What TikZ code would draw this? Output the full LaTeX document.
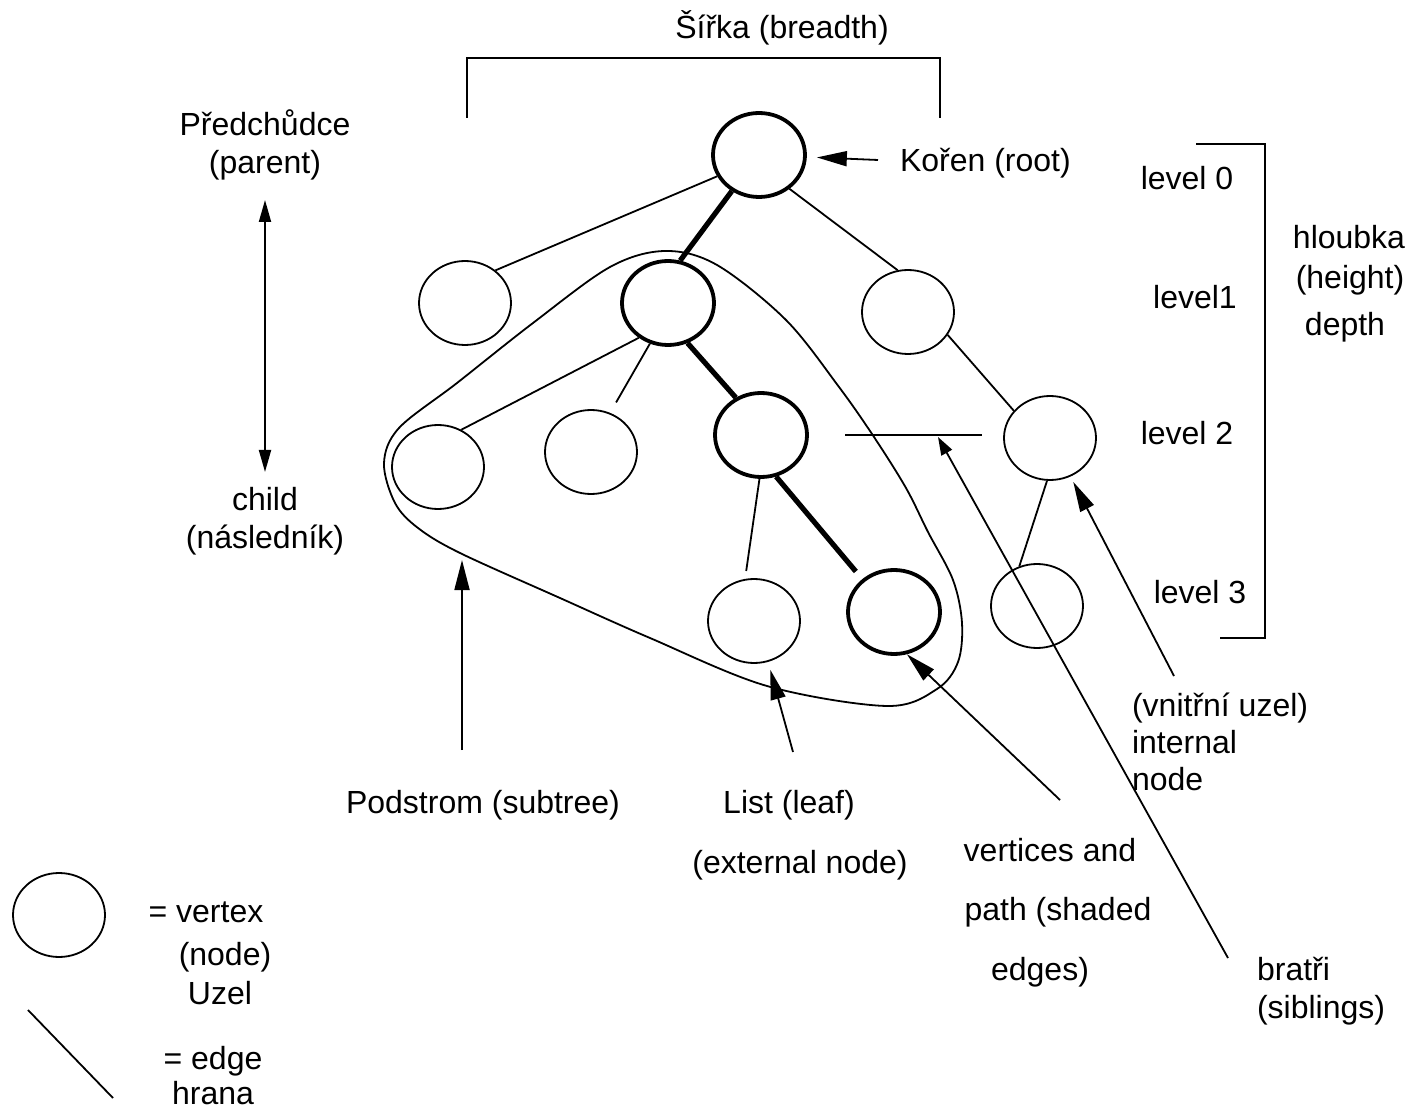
\documentclass[tikz,border=0pt]{standalone}
\usepackage{fontspec}
\setmainfont{Liberation Sans}
\usepackage{tikz}
\usetikzlibrary{shapes.geometric, arrows.meta, calc}

\begin{document}
\begin{tikzpicture}[x=0.5pt,y=-0.5pt,font=\fontsize{16}{19}\selectfont,
                    main node/.style={ellipse,draw,line width=0.9pt,inner sep=0pt,
                                      minimum width=46pt,minimum height=42pt},
                    path node/.style={main node,line width=1.9pt},
                    path edge/.style={line width=2.6pt},
                    pointer/.style={-{Triangle[length=15pt,width=7.5pt]},line width=0.9pt},
                    small pointer/.style={-{Triangle[length=9pt,width=6pt]},line width=0.9pt}]
  \useasboundingbox (0,0) rectangle (1414,1112);

  % the tree
  \node[path node] (1) at (759,155) {};
  \node[main node] (2) at (465,303) {};
  \node[path node] (3) at (668,303) {};
  \node[main node] (4) at (908,312) {};
  \node[main node] (5) at (438,467) {};
  \node[main node] (6) at (591,452) {};
  \node[path node] (7) at (761,435) {};
  \node[main node] (8) at (1050,438) {};
  \node[main node] (9) at (754,621) {};
  \node[path node] (10) at (894,612) {};
  \node[main node] (11) at (1037,606) {};

  \path[line width=0.9pt]
    (1.207) edge (2.47)
    (1.312) edge (4.104)
    (3.230) edge (5.58)
    (3.246) edge[shorten >=6pt] (6.64)
    (4.330) edge (8.143)
    (7.268) edge[shorten >=4pt] (9.102)
    (8.266) edge (11.114);
  \path[path edge]
    (1.233) edge (3.74)
    (3.296) edge (7.124)
    (7.290) edge[shorten >=5pt] (10.134);

  % subtree outline
  \draw[line width=0.9pt] plot[smooth cycle, tension=0.55] coordinates {
    (665,251) (610,267) (533,323) (457,383) (399,428) (384,463) (395,503)
    (418,528) (460,553) (560,598) (650,638) (767,686) (887,706) (937,689)
    (958,662) (962,623) (953,580) (928,532) (906,488) (874,437) (839,387)
    (786,320) (717,265)};

  % breadth and depth brackets
  \draw[line width=0.9pt] (467,118) |- (940,58) -- (940,118);
  \draw[line width=0.9pt] (1196,144) -| (1265,638) -- (1220,638);
  \node (sirka) at (782,28) {Šířka (breadth)};

  % labels
  \node[align=center] (pred) at (265,145) {Předchůdce\\(parent)};
  \node[align=center] (child) at (265,521) {child\\(následník)};
  \node[anchor=west] (koren) at (893,163) {Kořen (root)};
  \node (lev0) at (1187,178) {level 0};
  \node (lev1) at (1195,297) {level1};
  \node (lev2) at (1187,433) {level 2};
  \node (lev3) at (1200,592) {level 3};
  \node (hloubka) at (1349,237) {hloubka};
  \node (height) at (1350,280) {(height)};
  \node (depth) at (1345,327) {depth};
  \node[align=left,anchor=west,font=\fontsize{16}{18.5}\selectfont] (inner) at (1125,742)
    {(vnitřní uzel)\\internal\\node};
  \node (podstrom) at (483,805) {Podstrom (subtree)};
  \node (list) at (789,805) {List (leaf)};
  \node (external) at (800,865) {(external node)};
  \node (vert1) at (1050,850) {vertices and};
  \node (vert2) at (1058,912) {path (shaded};
  \node (vert3) at (1040,972) {edges)};
  \node[align=left,anchor=west] (bratri) at (1250,991) {bratři\\(siblings)};

  % siblings line
  \coordinate (s1) at (845,435);
  \coordinate (s2) at (982,435);
  \draw[line width=0.9pt] (s1) -- (s2);

  % pointers
  \coordinate (pa) at (265,200);
  \coordinate (ch) at (265,472);
  \draw[{Triangle[length=11pt,width=6pt]}-{Triangle[length=11pt,width=6pt]},line width=0.9pt] (pa) -- (ch);
  \coordinate (kt) at (878,160);
  \draw[pointer,shorten >=5pt] (kt) -- (1);
  \coordinate (it) at (1174,676);
  \draw[pointer,shorten >=3pt] (it) -- (8.298);
  \coordinate (pt) at (1060,800);
  \draw[pointer] (pt) -- (10.287);
  \coordinate (lt) at (793,752);
  \draw[pointer,shorten >=4pt] (lt) -- (9.289);
  \coordinate (st) at (462,750);
  \coordinate (sh) at (462,560);
  \draw[pointer] (st) -- (sh);
  \coordinate (bt) at (1228,958);
  \coordinate (bh) at (938,437);
  \draw[small pointer] (bt) -- (bh);

  % legend
  \node[main node] (legend) at (59,915) {};
  \node (vertex) at (206,912) {= vertex};
  \node (nodetxt) at (225,957) {(node)};
  \node (uzel) at (220,993) {Uzel};
  \coordinate (e1) at (28,1010);
  \coordinate (e2) at (113,1098);
  \draw[line width=0.9pt] (e1) -- (e2);
  \node (edge) at (213,1061) {= edge};
  \node (hrana) at (213,1093) {hrana};
\end{tikzpicture}
\end{document}
